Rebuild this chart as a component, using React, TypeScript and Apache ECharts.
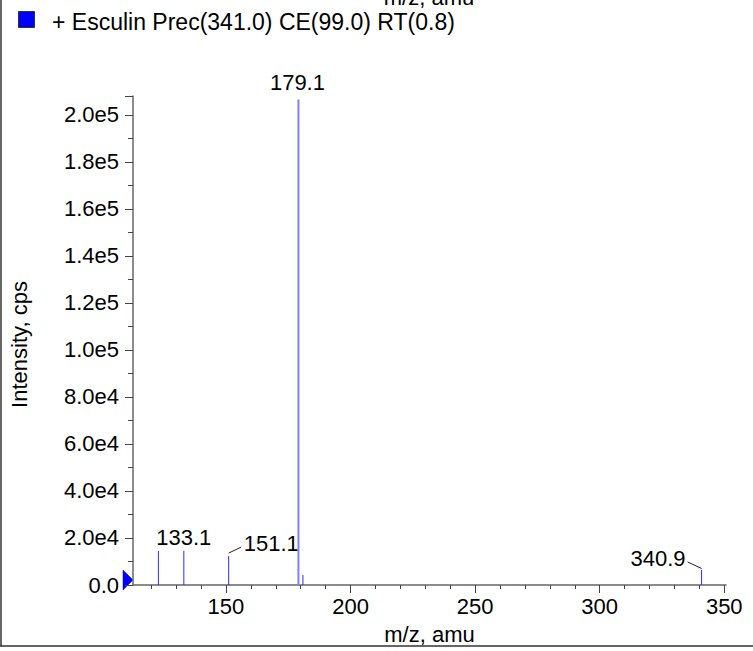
import React, { useEffect, useRef } from "react";
import * as echarts from "echarts";

// ---- data ----
const peakMz = [122.9, 133.1, 151.1, 179.1, 180.9, 340.9];
const peakIntensity = [14500, 14500, 12300, 206500, 4250, 6400];
const peakLabels = ["", "133.1", "151.1", "179.1", "", "340.9"];
const xMajorTicks = [150, 200, 250, 300, 350];
const xMinorTicks = [120, 130, 140, 160, 170, 180, 190, 210, 220, 230, 240, 260, 270, 280, 290, 310, 320, 330, 340];
const seriesName = "+ Esculin Prec(341.0) CE(99.0) RT(0.8)";
const xAxisTitle = "m/z, amu";
const yAxisTitle = "Intensity, cps";

// ---- styling ----
const FONT = "'Liberation Sans', Arial, Helvetica, sans-serif";
const FS = 22;
const labelPlacement: Record<string, { dx: number; dy: number; align: string; leader?: number[] }> = {
  "133.1": { dx: 0, dy: -13, align: "center" },
  "151.1": { dx: 15, dy: -13, align: "left", leader: [0, -3, 12.5, -9] },
  "179.1": { dx: -1, dy: -17, align: "center" },
  "340.9": { dx: -16, dy: -11, align: "right", leader: [-14, -8, 0, -1.5] },
};

export default function App() {
  const ref = useRef<HTMLDivElement>(null);
  useEffect(() => {
    if (!ref.current) return;
    const chart = echarts.init(ref.current, undefined, { renderer: "svg" });
    const data = peakMz.map((m, i) => [m, peakIntensity[i], i]);
    const option: any = {
      animation: false,
      backgroundColor: "#ffffff",
      textStyle: { fontFamily: FONT },
      grid: { left: 133, right: 27, top: 96, bottom: 66, outerBoundsMode: "none", containLabel: false },
      xAxis: [
        {
          type: "value",
          min: 112.7,
          max: 350.7,
          position: "bottom",
          name: xAxisTitle,
          nameLocation: "middle",
          nameGap: 38,
          nameTextStyle: { fontFamily: FONT, fontSize: FS, color: "#000" },
          axisLine: { show: true, onZero: false, lineStyle: { color: "#666", width: 1.5 } },
          axisTick: { show: true, customValues: xMajorTicks, length: 8, lineStyle: { color: "#444", width: 1 } },
          axisLabel: { show: true, customValues: xMajorTicks, margin: 10, fontFamily: FONT, fontSize: FS, color: "#000" },
          splitLine: { show: false },
        },
        {
          type: "value",
          min: 112.7,
          max: 350.7,
          position: "bottom",
          offset: 0,
          axisLine: { show: false },
          axisTick: { show: true, customValues: xMinorTicks, length: 4, lineStyle: { color: "#444", width: 1 } },
          axisLabel: { show: false },
          splitLine: { show: false },
        },
      ],
      yAxis: {
        type: "value",
        min: 0,
        max: 208000,
        interval: 20000,
        name: yAxisTitle,
        nameLocation: "middle",
        nameGap: 103,
        nameRotate: 90,
        nameTextStyle: { fontFamily: FONT, fontSize: FS, color: "#000", padding: [0, 0, 0, -8] },
        axisLine: { show: true, onZero: false, lineStyle: { color: "#666", width: 1.5 } },
        axisTick: { show: true, length: 8, lineStyle: { color: "#444", width: 1 } },
        minorTick: { show: true, splitNumber: 2, length: 5, lineStyle: { color: "#444", width: 1 } },
        axisLabel: {
          margin: 14,
          fontFamily: FONT,
          fontSize: FS,
          color: "#000",
          formatter: (v: number) => (v === 0 ? "0.0" : v.toExponential(1).replace("e+", "e")),
        },
        splitLine: { show: false },
      },
      series: [
        {
          type: "custom",
          name: seriesName,
          xAxisIndex: 0,
          yAxisIndex: 0,
          clip: false,
          data,
          renderItem: (params: any, api: any) => {
            const x = api.value(0);
            const y = api.value(1);
            const idx = api.value(2);
            const base = api.coord([x, 0]);
            const top = api.coord([x, y]);
            const isMain = y > 100000;
            const children: any[] = [
              {
                type: "line",
                shape: { x1: base[0], y1: base[1], x2: top[0], y2: top[1] },
                style: { stroke: isMain ? "#8080ff" : "#2a2aff", lineWidth: isMain ? 2 : 1 },
              },
            ];
            const lbl = peakLabels[idx];
            if (lbl && labelPlacement[lbl]) {
              const p = labelPlacement[lbl];
              children.push({
                type: "text",
                style: {
                  text: lbl,
                  x: top[0] + p.dx,
                  y: top[1] + p.dy,
                  align: p.align,
                  verticalAlign: "middle",
                  fontFamily: FONT,
                  fontSize: FS,
                  fill: "#000",
                },
              });
              if (p.leader) {
                children.push({
                  type: "line",
                  shape: {
                    x1: top[0] + p.leader[0],
                    y1: top[1] + p.leader[1],
                    x2: top[0] + p.leader[2],
                    y2: top[1] + p.leader[3],
                  },
                  style: { stroke: "#222", lineWidth: 1 },
                });
              }
            }
            return { type: "group", children };
          },
        },
      ],
      graphic: [
        { type: "line", shape: { x1: 1, y1: 0, x2: 1, y2: 646 }, style: { stroke: "#333", lineWidth: 1.5 } },
        { type: "line", shape: { x1: 0, y1: 646, x2: 753, y2: 646 }, style: { stroke: "#333", lineWidth: 1.5 } },
        {
          type: "text",
          x: 429,
          y: 8,
          style: { text: xAxisTitle, align: "center", verticalAlign: "bottom", fontFamily: FONT, fontSize: FS, fill: "#000" },
        },
        { type: "rect", shape: { x: 18.5, y: 11.5, width: 16, height: 16 }, style: { fill: "#0000ff", stroke: "#333", lineWidth: 1 } },
        {
          type: "text",
          x: 52,
          y: 22,
          style: { text: seriesName, align: "left", verticalAlign: "middle", fontFamily: FONT, fontSize: 23, fill: "#000" },
        },
        {
          type: "polygon",
          shape: { points: [[123, 570], [133, 580], [123, 590]] },
          style: { fill: "#0000ff", stroke: "#0000cc", lineWidth: 0.5 },
        },
      ],
    };
    chart.setOption(option);
    return () => chart.dispose();
  }, []);
  return <div ref={ref} style={{ position: "fixed", left: 0, top: 0, width: 753, height: 651 }} />;
}
